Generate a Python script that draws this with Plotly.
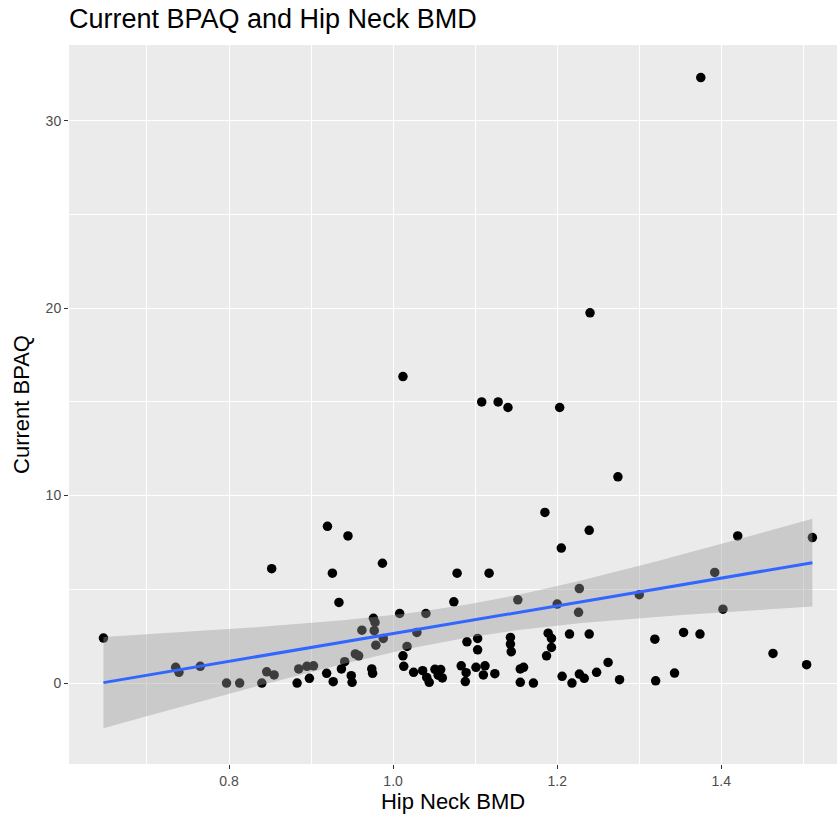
import numpy as np
import plotly.graph_objects as go

hip_neck_bmd = [
    0.647, 0.735, 0.739, 0.765, 0.797, 0.813, 0.840, 0.846, 0.855, 0.852,
    0.883, 0.885, 0.895, 0.898, 0.903, 0.919, 0.920, 0.926, 0.927, 0.934,
    0.937, 0.941, 0.945, 0.949, 0.950, 0.954, 0.958, 0.962, 0.974, 0.975,
    0.976, 0.977, 0.978, 0.979, 0.987, 0.988, 1.008, 1.012, 1.012, 1.013,
    1.017, 1.025, 1.029, 1.036, 1.041, 1.040, 1.044, 1.051, 1.058, 1.055,
    1.060, 1.074, 1.078, 1.083, 1.089, 1.088, 1.090, 1.101, 1.103, 1.103,
    1.108, 1.112, 1.110, 1.117, 1.124, 1.128, 1.140, 1.143, 1.143, 1.144,
    1.152, 1.155, 1.159, 1.155, 1.171, 1.185, 1.187, 1.189, 1.193, 1.193,
    1.200, 1.203, 1.205, 1.206, 1.215, 1.218, 1.226, 1.227, 1.227, 1.233,
    1.239, 1.239, 1.240, 1.248, 1.262, 1.274, 1.276, 1.300, 1.319, 1.320,
    1.343, 1.354, 1.374, 1.375, 1.392, 1.402, 1.420, 1.463, 1.504, 1.511,
]
current_bpaq = [
    2.40, 0.84, 0.57, 0.89, 0.00, 0.00, 0.00, 0.60, 0.43, 6.10,
    0.00, 0.75, 0.89, 0.25, 0.92, 0.52, 8.36, 5.86, 0.07, 4.30,
    0.75, 1.14, 7.85, 0.39, 0.04, 1.55, 1.45, 2.82, 0.75, 0.52,
    3.45, 2.79, 3.23, 2.02, 6.39, 2.38, 3.71, 16.35, 1.45, 0.89,
    1.95, 0.57, 2.70, 0.66, 0.30, 3.71, 0.04, 0.73, 0.72, 0.42,
    0.27, 4.33, 5.86, 0.92, 0.55, 0.08, 2.20, 0.84, 2.38, 1.77,
    15.00, 0.92, 0.43, 5.86, 0.50, 15.00, 14.70, 2.43, 2.08, 1.67,
    4.44, 0.75, 0.84, 0.04, 0.00, 9.10, 1.45, 2.66, 2.38, 1.90,
    4.21, 14.70, 7.20, 0.36, 2.61, 0.00, 3.77, 5.04, 0.48, 0.25,
    2.61, 8.15, 19.75, 0.57, 1.10, 11.00, 0.18, 4.71, 2.34, 0.12,
    0.53, 2.70, 2.61, 32.30, 5.90, 3.94, 7.85, 1.58, 0.98, 7.76,
]

x_ticks = [0.8, 1.0, 1.2, 1.4]
x_tick_labels = ["0.8", "1.0", "1.2", "1.4"]
y_ticks = [0, 10, 20, 30]
y_tick_labels = ["0", "10", "20", "30"]

title_text = "Current BPAQ and Hip Neck BMD"
x_title = "Hip Neck BMD"
y_title = "Current BPAQ"

# linear model fit with 95% confidence band (like geom_smooth(method="lm"))
x = np.array(hip_neck_bmd)
y = np.array(current_bpaq)
n = len(x)
slope, intercept = np.polyfit(x, y, 1)
resid = y - (intercept + slope * x)
s = np.sqrt(np.sum(resid ** 2) / (n - 2))
xbar = x.mean()
sxx = np.sum((x - xbar) ** 2)
t_crit = 1.983
xs = np.linspace(x.min(), x.max(), 80)
fit = intercept + slope * xs
se = s * np.sqrt(1.0 / n + (xs - xbar) ** 2 / sxx)
upper = fit + t_crit * se
lower = fit - t_crit * se

fig = go.Figure()
fig.add_trace(go.Scatter(
    x=hip_neck_bmd, y=current_bpaq, mode="markers",
    marker=dict(color="black", size=9.5, line=dict(width=0)),
    showlegend=False, hoverinfo="x+y",
))
fig.add_trace(go.Scatter(
    x=np.concatenate([xs, xs[::-1]]), y=np.concatenate([upper, lower[::-1]]),
    fill="toself", fillcolor="rgba(153,153,153,0.4)", line=dict(width=0),
    mode="lines", showlegend=False, hoverinfo="skip",
))
fig.add_trace(go.Scatter(
    x=xs, y=fit, mode="lines", line=dict(color="#3366FF", width=3),
    showlegend=False, hoverinfo="skip",
))

font_family = "Liberation Sans, Arial, sans-serif"
fig.update_layout(
    width=837, height=820,
    margin=dict(l=69, r=0, t=45, b=56, autoexpand=False),
    paper_bgcolor="white", plot_bgcolor="#EBEBEB",
    font=dict(family=font_family, color="black"),
    title=dict(text=title_text, x=0, xref="paper", xanchor="left",
               y=1, yref="container", yanchor="top", pad=dict(t=9),
               font=dict(size=27, color="black", family=font_family)),
    xaxis=dict(
        automargin=False,
        range=[0.605, 1.541], tickvals=x_ticks, ticktext=x_tick_labels,
        showgrid=True, gridcolor="white", gridwidth=1.4, zeroline=False,
        ticks="outside", ticklen=4, tickwidth=1.1, tickcolor="#333333",
        tickfont=dict(size=14, color="#4D4D4D"),
        minor=dict(tickvals=[0.7, 0.9, 1.1, 1.3, 1.5], showgrid=True,
                   gridcolor="white", gridwidth=0.7, ticks=""),
        title=dict(text=x_title, font=dict(size=22, color="black"), standoff=4),
        showline=False,
    ),
    yaxis=dict(
        automargin=False,
        range=[-4.32, 34.04], tickvals=y_ticks, ticktext=y_tick_labels,
        showgrid=True, gridcolor="white", gridwidth=1.4, zeroline=False,
        ticks="outside", ticklen=4, tickwidth=1.1, tickcolor="#333333",
        tickfont=dict(size=14, color="#4D4D4D"),
        minor=dict(tickvals=[5, 15, 25], showgrid=True,
                   gridcolor="white", gridwidth=0.7, ticks=""),
        title=dict(text=y_title, font=dict(size=22, color="black"), standoff=9),
        showline=False,
    ),
)

fig.write_html(
    "out.html",
    config={"displayModeBar": False},
    post_script="document.body.style.margin='0';document.body.style.overflow='hidden';",
)
